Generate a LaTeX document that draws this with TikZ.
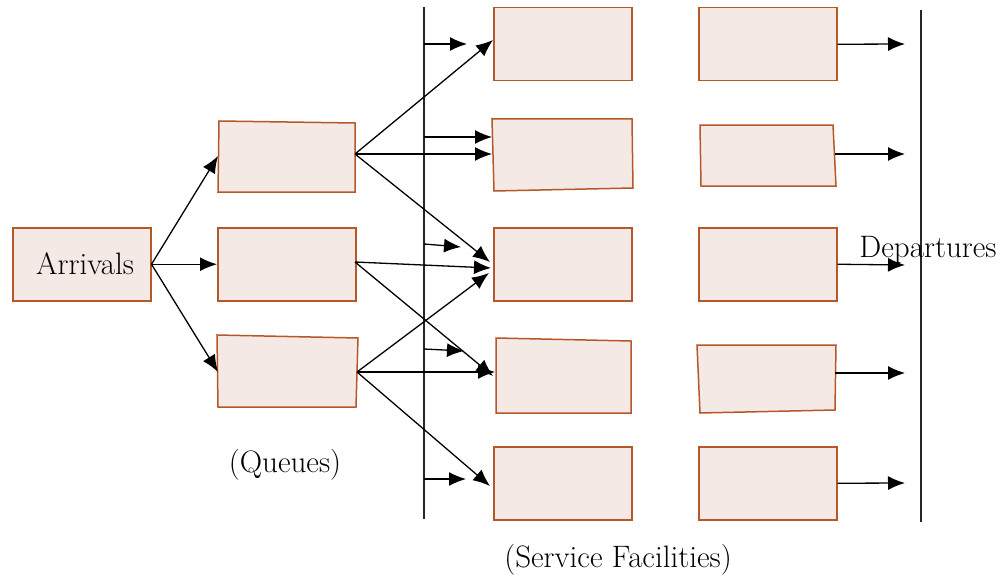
\documentclass[tikz,border=0pt]{standalone}
\usetikzlibrary{arrows.meta}
\definecolor{boxline}{HTML}{B4582A}
\definecolor{boxfill}{HTML}{F5E9E5}
\tikzset{
  box/.style={draw=boxline,fill=boxfill,line width=1.5pt},
  rbox/.style={box,minimum width=138pt,minimum height=73pt,inner sep=0pt,anchor=north west},
  conn/.style={line width=1.3pt,-{Latex[length=17pt,width=14pt]}},
  bar/.style={line width=1.1pt,draw=black!85},
  lbl/.style={font=\fontsize{31}{36}\selectfont,inner sep=0pt}
}
\begin{document}
\begin{tikzpicture}[x=1pt,y=-1pt]
\useasboundingbox (0,0) rectangle (1005,578);
% vertical lines
\coordinate (LT) at (424,7);
\coordinate (LB) at (424,519);
\coordinate (RT) at (921,10);
\coordinate (RB) at (921,522);
\draw[bar] (LT) -- (LB);
\draw[bar] (RT) -- (RB);
% arrivals
\node[rbox] (arr) at (12,227) {};
\node[lbl] (arrt) at (85,264) {Arrivals};
% queues
\draw[box] (219,121) -- (355,123) -- (355,192) -- (218,192) -- cycle;
\node[rbox] (q2) at (217,227) {};
\draw[box] (217,335) -- (358,338) -- (356,407) -- (218,407) -- cycle;
\coordinate (q1l) at (218,156);
\coordinate (q1r) at (355,154);
\coordinate (q3l) at (218,372);
\coordinate (q3r) at (357,372);
% service column
\node[rbox] (s1) at (493,7) {};
\draw[box] (492,119) -- (632,119) -- (633,188) -- (494,191) -- cycle;
\node[rbox] (s3) at (493,227) {};
\draw[box] (496,338) -- (631,341) -- (631,413) -- (496,413) -- cycle;
\node[rbox] (s5) at (493,446) {};
% departure column
\node[rbox] (d1) at (698,7) {};
\draw[box] (700,125) -- (833,125) -- (836,186) -- (701,186) -- cycle;
\node[rbox] (d3) at (698,227) {};
\draw[box] (697,345) -- (836,345) -- (835,410) -- (700,413) -- cycle;
\node[rbox] (d5) at (698,446) {};
% labels
\node[lbl] (qt) at (285,465) {(Queues)};
\node[lbl] (sft) at (618,560) {(Service Facilities)};
\node[lbl] (dpt) at (928,250) {Departures};
% arrivals to queues
\draw[conn] (arr.east) -- (q1l);
\draw[conn] (arr.east) -- (q2.west);
\draw[conn] (arr.east) -- (q3l);
% queue 1
\coordinate (s1in) at (493,40);
\coordinate (s2in) at (492,154);
\coordinate (s3ina) at (490,262);
\coordinate (s3inb) at (491,268);
\coordinate (s3inc) at (489,273);
\coordinate (s4ina) at (493,376);
\coordinate (s4inb) at (495,372);
\coordinate (s5in) at (490,486);
\draw[conn] (q1r) -- (s1in);
\draw[conn] (q1r) -- (s2in);
\draw[conn] (q1r) -- (s3ina);
% queue 2
\coordinate (q2r) at (355,262);
\draw[conn] (q2r) -- (s3inb);
\draw[conn] (q2r) -- (s4ina);
% queue 3
\draw[conn] (q3r) -- (s3inc);
\draw[conn] (q3r) -- (s4inb);
\draw[conn] (q3r) -- (s5in);
% short arrows from the line
\coordinate (a1s) at (424,44);  \coordinate (a1e) at (467,44);
\coordinate (a2s) at (424,137); \coordinate (a2e) at (492,137);
\coordinate (a3s) at (424,244); \coordinate (a3e) at (461,247);
\coordinate (a4s) at (424,349); \coordinate (a4e) at (464,351);
\coordinate (a5s) at (424,479); \coordinate (a5e) at (466,479);
\draw[conn] (a1s) -- (a1e);
\draw[conn] (a2s) -- (a2e);
\draw[conn] (a3s) -- (a3e);
\draw[conn] (a4s) -- (a4e);
\draw[conn] (a5s) -- (a5e);
% departures
\coordinate (d2r) at (835,154);
\coordinate (d4r) at (835,373);
\coordinate (o1) at (905,44);
\coordinate (o2) at (905,154);
\coordinate (o3) at (905,265);
\coordinate (o4) at (905,373);
\coordinate (o5) at (905,483);
\draw[conn] (d1.east) -- (o1);
\draw[conn] (d2r) -- (o2);
\draw[conn] (d3.east) -- (o3);
\draw[conn] (d4r) -- (o4);
\draw[conn] (d5.east) -- (o5);
\end{tikzpicture}
\end{document}
